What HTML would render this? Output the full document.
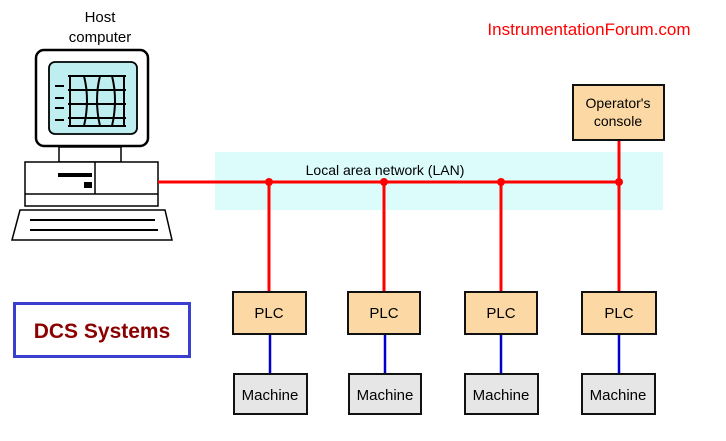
<!DOCTYPE html>
<html><head><style>
body{margin:0;background:#fff;width:726px;height:436px;overflow:hidden;font-family:"Liberation Sans",sans-serif}
</style></head><body>
<svg width="726" height="436" viewBox="0 0 726 436" xmlns="http://www.w3.org/2000/svg" font-family="Liberation Sans, sans-serif">
<rect x="215" y="152" width="448" height="58" fill="#dcfcfc"/>
<text x="385" y="175" font-size="14" text-anchor="middle">Local area network (LAN)</text>
<text x="589" y="35" font-size="17" fill="#f00" text-anchor="middle">InstrumentationForum.com</text>
<text x="100" y="22" font-size="15" text-anchor="middle">Host</text>
<text x="100" y="42" font-size="15" text-anchor="middle">computer</text>
<!-- computer -->
<g stroke="#000" stroke-width="2.5" fill="#fff">
<rect x="36" y="50" width="112" height="96" rx="8"/>
<rect x="49" y="62" width="88" height="72" rx="6" fill="#bfeef0" stroke-width="1.8"/>
</g>
<g stroke="#000" stroke-width="1.5" fill="#fff">
<rect x="59" y="147" width="62" height="15"/>
<rect x="25" y="162" width="133" height="44"/>
<line x1="25" y1="194" x2="158" y2="194"/>
<line x1="95" y1="162" x2="95" y2="194"/>
<path d="M20 210 L165 210 L172 240 L12 240 Z"/>
</g>
<g stroke="#000" stroke-width="2" fill="none">
<path d="M68 76 H126 M68 90 H126 M68 104 H126 M68 118 H126 M68 126 H126 M70 76 V126 M84 76 Q90 100 84 126 M100 76 Q94 100 100 126 M112 76 Q118 100 112 126 M124 76 V126"/>
<path d="M55 86 H64 M55 98 H64 M55 108 H64 M55 120 H64"/>
<path d="M30 220 H155 M30 230 H158"/>
</g>
<rect x="58" y="173" width="34" height="4" fill="#000"/>
<rect x="84" y="182" width="8" height="6" fill="#000"/>
<!-- red lines -->
<g stroke="#f00" stroke-width="3" fill="none">
<line x1="158" y1="182" x2="619" y2="182"/>
<line x1="269" y1="182" x2="269" y2="292"/>
<line x1="384" y1="182" x2="384" y2="292"/>
<line x1="501" y1="182" x2="501" y2="292"/>
<line x1="619" y1="140" x2="619" y2="292"/>
</g>
<g fill="#f00"><circle cx="269" cy="182" r="4"/><circle cx="384" cy="182" r="4"/><circle cx="501" cy="182" r="4"/><circle cx="619" cy="182" r="4"/></g>
<g stroke="#00c" stroke-width="2.5">
<line x1="270" y1="334" x2="270" y2="374"/><line x1="385" y1="334" x2="385" y2="374"/>
<line x1="501" y1="334" x2="501" y2="374"/><line x1="619" y1="334" x2="619" y2="374"/>
</g>
<rect x="573" y="85" width="91" height="55" fill="#fcd9a4" stroke="#111" stroke-width="2"/>
<text x="618" y="108" font-size="14" text-anchor="middle">Operator's</text>
<text x="618" y="126" font-size="14" text-anchor="middle">console</text>
<g fill="#fcd9a4" stroke="#111" stroke-width="2">
<rect x="233" y="292" width="73" height="42"/><rect x="348" y="292" width="72" height="42"/>
<rect x="465" y="292" width="72" height="42"/><rect x="582" y="292" width="74" height="42"/>
</g>
<g fill="#e6e6e6" stroke="#111" stroke-width="2">
<rect x="234" y="374" width="73" height="40"/><rect x="349" y="374" width="72" height="40"/>
<rect x="465" y="374" width="73" height="40"/><rect x="582" y="374" width="73" height="40"/>
</g>
<g font-size="15" text-anchor="middle">
<text x="269" y="318">PLC</text><text x="384" y="318">PLC</text><text x="501" y="318">PLC</text><text x="619" y="318">PLC</text>
<text x="270" y="400">Machine</text><text x="385" y="400">Machine</text><text x="501" y="400">Machine</text><text x="618" y="400">Machine</text>
</g>
<rect x="14.5" y="303.5" width="175" height="53" fill="#fff" stroke="#3b3fd0" stroke-width="3"/>
<text x="102" y="338" font-size="21" font-weight="bold" fill="#8b0000" text-anchor="middle">DCS Systems</text>
</svg>
</body></html>
